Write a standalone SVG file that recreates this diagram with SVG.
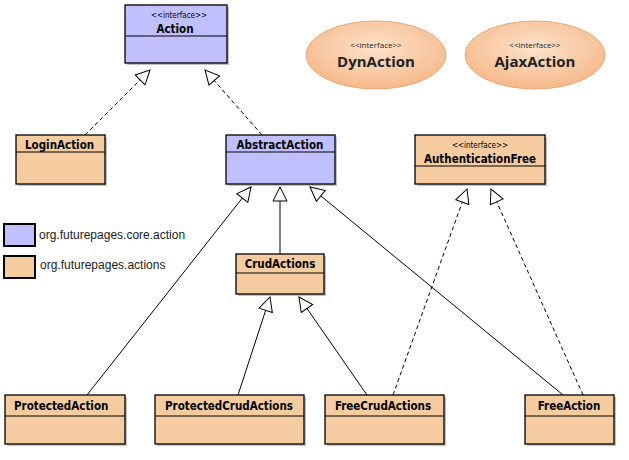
<svg xmlns="http://www.w3.org/2000/svg" width="629" height="460" viewBox="0 0 629 460">
<defs>
<marker id="tri" markerUnits="userSpaceOnUse" markerWidth="16" markerHeight="16" refX="15" refY="8" orient="auto" viewBox="0 0 16 16">
<path d="M1,1 L15,8 L1,15 Z" fill="#fff" stroke="#000" stroke-width="1"/>
</marker>
<radialGradient id="eg" cx="50%" cy="40%" r="60%">
<stop offset="0" stop-color="#fde3cc"/><stop offset="1" stop-color="#f6b98a"/>
</radialGradient>
</defs>
<style>
.b{fill:#c0c0ff;stroke:#000;stroke-width:1.3}
.o{fill:#f5cca0;stroke:#000;stroke-width:1.3}
.sh{fill:#999;opacity:.6}
.dv{stroke:#000;stroke-width:1}
.n{font-family:"DejaVu Sans Condensed","DejaVu Sans",sans-serif;font-weight:bold;font-size:11.5px;fill:#000}
.st{font-family:"DejaVu Sans Condensed","DejaVu Sans",sans-serif;font-size:8px;fill:#000}
.lg{font-family:"Liberation Sans",Arial,sans-serif;font-size:12px;fill:#222}
.e{font-family:"Open Sans","Liberation Sans",sans-serif;fill:#222}
.c{fill:none;stroke:#000;stroke-width:1;marker-end:url(#tri)}
.d{stroke-dasharray:4,3}
</style>
<g id="connectors">
<path class="c d" d="M85,135 L150,70"/>
<path class="c d" d="M262,135 L205,70"/>
<path class="c" d="M87,395 L251,187"/>
<path class="c" d="M280,254 L280,187"/>
<path class="c" d="M563,395 L310,187"/>
<path class="c" d="M238,395 L270,297"/>
<path class="c" d="M367,395 L299,297"/>
<path class="c d" d="M393,395 L467,189"/>
<path class="c d" d="M583,395 L491,189"/>
</g>
<g id="Action"><rect class="sh" x="127" y="7" width="102" height="58"/><rect class="b" x="125" y="5" width="102" height="58"/><line class="dv" x1="125" y1="36" x2="227" y2="36"/><text class="st" x="179" y="18" text-anchor="middle">&lt;&lt;interface&gt;&gt;</text><text class="n" x="175" y="33" text-anchor="middle">Action</text></g>
<g id="DynAction"><ellipse cx="376" cy="55" rx="70" ry="34" fill="url(#eg)" stroke="#e9a878"/><text class="e" x="376" y="48" font-size="8" text-anchor="middle">&lt;&lt;interface&gt;&gt;</text><text class="e" x="376" y="67" font-size="15" font-weight="bold" text-anchor="middle">DynAction</text></g>
<g id="AjaxAction"><ellipse cx="535" cy="55" rx="70" ry="34" fill="url(#eg)" stroke="#e9a878"/><text class="e" x="535" y="48" font-size="8" text-anchor="middle">&lt;&lt;interface&gt;&gt;</text><text class="e" x="535" y="67" font-size="15" font-weight="bold" text-anchor="middle">AjaxAction</text></g>
<g id="LoginAction"><rect class="sh" x="18" y="137" width="89" height="49"/><rect class="o" x="16" y="135" width="89" height="49"/><line class="dv" x1="16" y1="152" x2="105" y2="152"/><text class="n" x="25" y="149">LoginAction</text></g>
<g id="AbstractAction"><rect class="sh" x="228" y="137" width="109" height="49"/><rect class="b" x="226" y="135" width="109" height="49"/><line class="dv" x1="226" y1="152" x2="335" y2="152"/><text class="n" x="280" y="149" text-anchor="middle">AbstractAction</text></g>
<g id="AuthenticationFree"><rect class="sh" x="417" y="137" width="130" height="49"/><rect class="o" x="415" y="135" width="130" height="49"/><line class="dv" x1="415" y1="166" x2="545" y2="166"/><text class="st" x="480" y="148" text-anchor="middle">&lt;&lt;interface&gt;&gt;</text><text class="n" x="480" y="163" text-anchor="middle">AuthenticationFree</text></g>
<g id="legend"><rect x="4" y="224" width="31" height="22" fill="#c0c0ff" stroke="#000" stroke-width="2"/><text class="lg" x="39" y="239">org.futurepages.core.action</text><rect x="4" y="256" width="31" height="22" fill="#f5cca0" stroke="#000" stroke-width="2"/><text class="lg" x="40" y="269">org.futurepages.actions</text></g>
<g id="CrudActions"><rect class="sh" x="238" y="256" width="88" height="40"/><rect class="o" x="236" y="254" width="88" height="40"/><line class="dv" x1="236" y1="273" x2="324" y2="273"/><text class="n" x="280" y="268" text-anchor="middle">CrudActions</text></g>
<g id="ProtectedAction"><rect class="sh" x="7" y="397" width="120" height="49"/><rect class="o" x="5" y="395" width="120" height="49"/><line class="dv" x1="5" y1="416" x2="125" y2="416"/><text class="n" x="14" y="410">ProtectedAction</text></g>
<g id="ProtectedCrudActions"><rect class="sh" x="157" y="397" width="149" height="49"/><rect class="o" x="155" y="395" width="149" height="49"/><line class="dv" x1="155" y1="416" x2="304" y2="416"/><text class="n" x="229" y="410" text-anchor="middle">ProtectedCrudActions</text></g>
<g id="FreeCrudActions"><rect class="sh" x="327" y="397" width="119" height="49"/><rect class="o" x="325" y="395" width="119" height="49"/><line class="dv" x1="325" y1="416" x2="444" y2="416"/><text class="n" x="383" y="410" text-anchor="middle">FreeCrudActions</text></g>
<g id="FreeAction"><rect class="sh" x="527" y="397" width="89" height="49"/><rect class="o" x="525" y="395" width="89" height="49"/><line class="dv" x1="525" y1="416" x2="614" y2="416"/><text class="n" x="569" y="410" text-anchor="middle">FreeAction</text></g>
</svg>
